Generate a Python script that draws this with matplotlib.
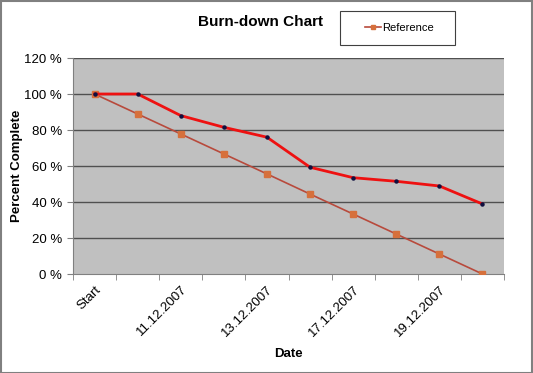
import matplotlib
matplotlib.use('Agg')
import matplotlib.pyplot as plt
from matplotlib.patches import Rectangle

plt.rcParams['font.family'] = ['Liberation Sans', 'DejaVu Sans']

# data
dates = ['Start', '10.12.2007', '11.12.2007', '12.12.2007', '13.12.2007',
         '14.12.2007', '17.12.2007', '18.12.2007', '19.12.2007', '20.12.2007']
actual = [100, 100, 88, 81.5, 76, 59.3, 53.5, 51.5, 48.9, 38.9]
reference = [100, 88.9, 77.8, 66.7, 55.6, 44.4, 33.3, 22.2, 11.1, 0]
y_ticks = [0, 20, 40, 60, 80, 100, 120]

fig = plt.figure(figsize=(5.33, 3.73), dpi=100)
ax = fig.add_axes([0.137, 0.2654, 0.8086, 0.5791])
ax.set_facecolor('#c0c0c0')

x = list(range(len(dates)))
ax.plot(x, actual, color='#ee1111', linewidth=2.0, marker='o', markersize=2.2,
        markerfacecolor='#101040', markeredgecolor='#101040', zorder=4)
ref_line, = ax.plot(x, reference, color='#b84a3c', linewidth=1.2, marker='s', markersize=4,
                    markerfacecolor='#d6703c', markeredgecolor='#d6703c', zorder=3,
                    label='Reference')

ax.set_xlim(-0.5, len(dates) - 0.5)
ax.set_ylim(0, 120)
ax.set_yticks(y_ticks)
ax.set_yticklabels(['%d %%' % v for v in y_ticks], fontsize=9.5)
for v in y_ticks[1:]:
    ax.axhline(v, color='#505050', linewidth=1.0, zorder=1)

ax.set_xticks(x[::2])
ax.set_xticklabels(dates[::2], rotation=45, ha='right', rotation_mode='anchor', fontsize=9.5)
ax.set_xticks([i - 0.5 for i in range(len(dates) + 1)], minor=True)
ax.tick_params(axis='x', which='major', length=0, pad=7)
ax.tick_params(axis='x', which='minor', length=4, color='#808080')
ax.tick_params(axis='y', length=4, color='#808080', pad=4)

for s in ['top', 'right']:
    ax.spines[s].set_visible(False)
for s in ['left', 'bottom']:
    ax.spines[s].set_color('#808080')

ax.set_xlabel('Date', fontsize=9.5, fontweight='bold', labelpad=6)
ax.set_ylabel('Percent Complete', fontsize=9.5, fontweight='bold')
ax.yaxis.set_label_coords(-0.116, 0.5)

fig.text(0.488, 0.94, 'Burn-down Chart', ha='center', va='center', fontsize=11, fontweight='bold')

# legend box drawn separately, like the spreadsheet legend
fig.patches.append(Rectangle((0.638, 0.8794), 0.2158, 0.0912, transform=fig.transFigure,
                             fill=False, edgecolor='#404040', linewidth=0.8))
leg = fig.legend(handles=[ref_line], loc='center left', bbox_to_anchor=(0.685, 0.925),
                 fontsize=8, frameon=False, handlelength=1.4, borderpad=0,
                 borderaxespad=0, handletextpad=0.1, markerscale=0.8)

fig.patches.append(Rectangle((0.001, 0.001), 0.997, 0.996, transform=fig.transFigure,
                             fill=False, edgecolor='#808080', linewidth=1.5))

fig.savefig('out.png', dpi=100)
